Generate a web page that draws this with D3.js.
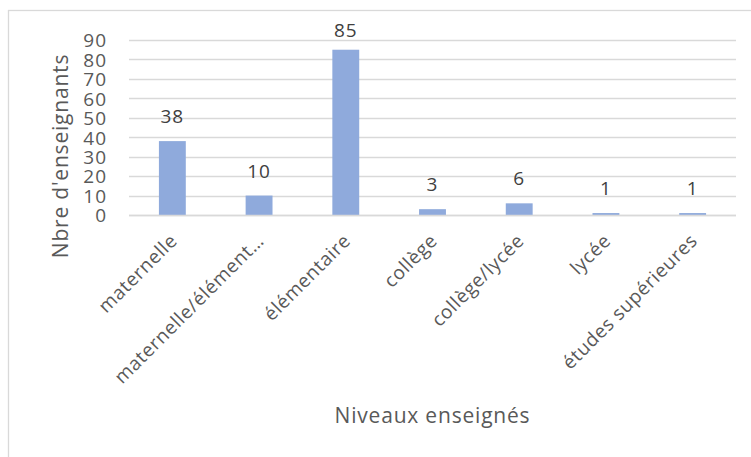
<!DOCTYPE html>
<html>
<head>
<meta charset="utf-8">
<script src="https://cdn.jsdelivr.net/npm/d3@7"></script>
<style>
  html, body { margin: 0; padding: 0; background: #fff; }
  svg { display: block; font-family: "Open Sans", sans-serif; }
</style>
</head>
<body>
<svg id="chart" width="751" height="457"></svg>
<script>
const categories = ["maternelle", "maternelle/élément…", "élémentaire", "collège", "collège/lycée", "lycée", "études supérieures"];
const values = [38, 10, 85, 3, 6, 1, 1];
const yTicks = [0, 10, 20, 30, 40, 50, 60, 70, 80, 90];
const yTitle = "Nbre d'enseignants";
const xTitle = "Niveaux enseignés";

const svg = d3.select("#chart");
const plot = { left: 129, right: 736, top: 40, bottom: 215 };

// chart border
svg.append("rect")
  .attr("x", 8.5).attr("y", 10.5)
  .attr("width", 800).attr("height", 600)
  .attr("fill", "none").attr("stroke", "#d9d9d9").attr("stroke-width", 1.3);

const x = d3.scaleBand().domain(categories).range([plot.left, plot.right]).paddingInner(0.69).paddingOuter(0.345);
const y = d3.scaleLinear().domain([0, 90]).range([plot.bottom, plot.top]);

// gridlines
svg.append("g").selectAll("line").data(yTicks).join("line")
  .attr("x1", plot.left).attr("x2", plot.right)
  .attr("y1", d => Math.round(y(d)) + 0.5).attr("y2", d => Math.round(y(d)) + 0.5)
  .attr("stroke", "#d9d9d9").attr("stroke-width", 1.3);

// y axis labels
const yAxis = d3.axisLeft(y).tickValues(yTicks).tickSize(0).tickPadding(0);
const gy = svg.append("g").attr("transform", `translate(107,0)`).call(yAxis);
gy.select(".domain").remove();
gy.selectAll("text").attr("font-size", 19).attr("letter-spacing", 1).attr("fill", "#595959")
  .attr("font-family", "Open Sans, sans-serif").attr("dy", "0.36em");

// bars
svg.append("g").selectAll("rect").data(values).join("rect")
  .attr("x", (d, i) => x(categories[i]))
  .attr("width", x.bandwidth())
  .attr("y", d => y(d))
  .attr("height", d => plot.bottom - y(d))
  .attr("fill", "#8faadc");

// bottom axis line (drawn over bars)
svg.append("line")
  .attr("x1", plot.left).attr("x2", plot.right)
  .attr("y1", y(0) + 0.5).attr("y2", y(0) + 0.5)
  .attr("stroke", "#d9d9d9").attr("stroke-width", 1.3);

// data labels
svg.append("g").selectAll("text").data(values).join("text")
  .attr("x", (d, i) => x(categories[i]) + x.bandwidth() / 2)
  .attr("y", d => Math.max(y(d) - 18, 37))
  .attr("text-anchor", "middle")
  .attr("font-size", 19).attr("letter-spacing", 1).attr("fill", "#404040")
  .text(d => d);

// x axis labels rotated
const xAxis = d3.axisBottom(x).tickSize(0).tickPadding(0);
const gx = svg.append("g").attr("transform", `translate(0,${plot.bottom})`).call(xAxis);
gx.select(".domain").remove();
gx.selectAll("text")
  .attr("font-size", 19).attr("letter-spacing", 0.6).attr("fill", "#595959").attr("font-family", "Open Sans, sans-serif")
  .attr("text-anchor", "end")
  .attr("dy", null).attr("y", null)
  .attr("transform", "translate(6,27) rotate(-45)");

// axis titles
svg.append("text")
  .attr("transform", "translate(68,156) rotate(-90)")
  .attr("text-anchor", "middle").attr("font-size", 21).attr("letter-spacing", 0.8).attr("fill", "#595959")
  .text(yTitle);
svg.append("text")
  .attr("x", (plot.left + plot.right) / 2).attr("y", 423)
  .attr("text-anchor", "middle").attr("font-size", 21).attr("letter-spacing", 0.8).attr("fill", "#595959")
  .text(xTitle);
</script>
</body>
</html>
